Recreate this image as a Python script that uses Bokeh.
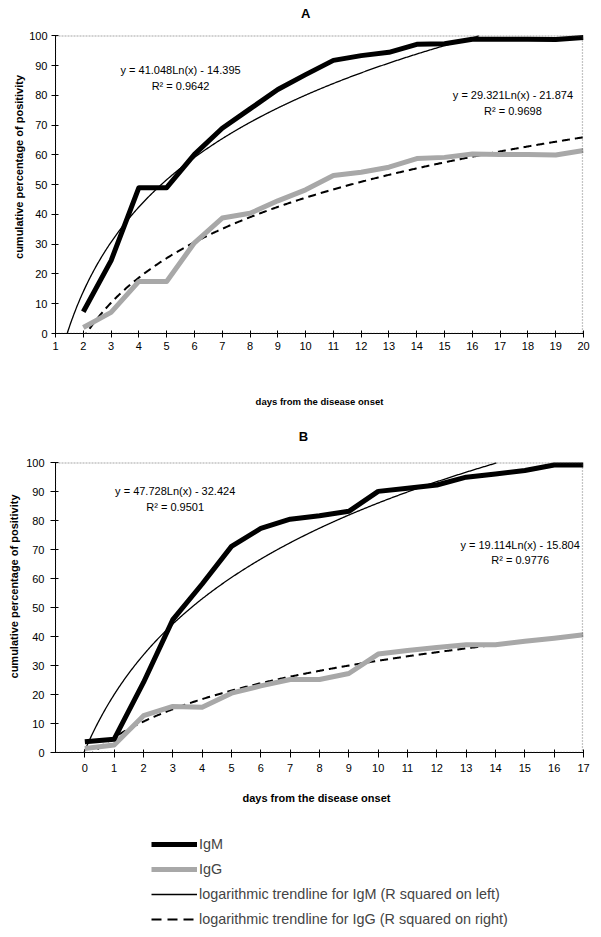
import numpy as np
from bokeh.plotting import figure
from bokeh.layouts import column
from bokeh.models import Label, Legend, LegendItem, FixedTicker, Range1d, BoxAnnotation
from bokeh.embed import file_html
from bokeh.resources import INLINE

FONT = "Liberation Sans"

# ---------------- data: panel A ----------------
days_a = list(range(2, 21))
igm_a = [7.3, 24.5, 49.0, 49.0, 60.2, 69.0, 75.5, 82.0, 87.0, 91.8,
         93.4, 94.5, 97.2, 97.4, 98.9, 98.9, 98.9, 98.8, 99.5]
igg_a = [2.0, 7.1, 17.5, 17.5, 30.5, 38.8, 40.4, 44.6, 48.3, 53.1,
         54.2, 55.9, 58.8, 59.2, 60.3, 60.2, 60.2, 60.0, 61.5]
xticks_a = list(range(1, 21))
# logarithmic trendlines (slope, intercept) as printed on the chart
trend_a_igm = (41.048, -14.395)
trend_a_igg = (29.321, -21.874)
r2_a_igm = "0.9642"
r2_a_igg = "0.9698"
cat_offset_a = 0   # category index = day

# ---------------- data: panel B ----------------
days_b = list(range(0, 18))
igm_b = [3.7, 4.6, 24.2, 45.9, 58.2, 71.2, 77.4, 80.6, 81.8, 83.3,
         90.2, 91.3, 92.4, 95.1, 96.2, 97.4, 99.3, 99.3]
igg_b = [1.4, 2.6, 12.7, 15.9, 15.6, 20.5, 23.0, 25.2, 25.2, 27.3,
         34.0, 35.2, 36.3, 37.2, 37.2, 38.4, 39.5, 40.7]
xticks_b = list(range(0, 18))
trend_b_igm = (47.728, -32.424)
trend_b_igg = (19.114, -15.804)
r2_b_igm = "0.9501"
r2_b_igg = "0.9776"
cat_offset_b = 2   # category index = day + 2 (first category is a blank at -1)

yticks = list(range(0, 101, 10))

IGM_COLOR = "black"
IGG_COLOR = "#a8a8a8"
BL, BR, W = 55, 17, 600


def eq_text(coef):
    a, b = coef
    sign = "-" if b < 0 else "+"
    return f"y = {a:.3f}Ln(x) {sign} {abs(b):.3f}"


def trend_curve(coef, x0, x1, offset):
    a, b = coef
    x_top = np.exp((100 - b) / a) - offset      # where the curve reaches 100
    xe = min(x1, x_top)
    xs = np.linspace(x0, xe, 600)
    idx = xs + offset
    ys = np.full_like(xs, np.nan)
    ok = idx > 0
    ys[ok] = a * np.log(idx[ok]) + b
    return xs, ys


def make_panel(title, title_xy, days, igm, igg, xticks, x0, x1, y_end,
               t_igm, t_igg, r2m, r2g, offset, height, bb, eq_pos,
               xlabel, xlabel_size, xlabel_standoff, tick_out, tick_standoff,
               ylabel_standoff):
    p = figure(width=W, height=height, x_range=Range1d(x0, x1),
               y_range=Range1d(0, y_end), output_backend="svg",
               toolbar_location=None, min_border_left=BL,
               min_border_right=BR, min_border_top=0, min_border_bottom=bb)
    p.grid.visible = False
    p.outline_line_color = None
    p.background_fill_color = "white"

    # plot-area border (0..100); right edge pulled in ~1px so it is not clipped
    px_per_unit = (W - BL - BR) / (x1 - x0)
    p.add_layout(BoxAnnotation(left=x0, right=x1 - 1.0 / px_per_unit,
                               bottom=0, top=100,
                               fill_color=None, fill_alpha=0,
                               line_color="#3a3a3a", line_dash="2 1",
                               line_width=1.3))

    # trendlines
    xs, ys = trend_curve(t_igm, x0, x1, offset)
    p.line(xs, ys, line_color="black", line_width=1.3)
    xs, ys = trend_curve(t_igg, x0, x1, offset)
    p.line(xs, ys, line_color="black", line_width=2, line_dash="8 5")

    # data series
    p.line(days, igg, line_color=IGG_COLOR, line_width=5, line_join="round")
    p.line(days, igm, line_color=IGM_COLOR, line_width=5, line_join="round")

    # panel letter
    p.add_layout(Label(x=title_xy[0], y=title_xy[1], text=title,
                       text_align="center", text_baseline="middle",
                       text_font=FONT, text_font_size="13px",
                       text_font_style="bold", text_color="black"))

    # equations
    (ex1, ey1, ey1b), (ex2, ey2, ey2b) = eq_pos
    for x, y, t in [(ex1, ey1, eq_text(t_igm)), (ex1, ey1b, "R² = " + r2m),
                    (ex2, ey2, eq_text(t_igg)), (ex2, ey2b, "R² = " + r2g)]:
        p.add_layout(Label(x=x, y=y, text=t, text_align="center",
                           text_baseline="middle", text_font=FONT,
                           text_font_size="11px", text_color="black"))

    for ax in (p.xaxis[0], p.yaxis[0]):
        ax.major_tick_in = 3
        ax.major_tick_out = tick_out
        ax.minor_tick_line_color = None
        ax.axis_line_color = "black"
        ax.major_tick_line_color = "black"
        ax.major_label_text_font = FONT
        ax.major_label_text_font_size = "11px"
        ax.major_label_text_color = "black"
        ax.axis_label_text_font = FONT
        ax.axis_label_text_font_size = "11px"
        ax.axis_label_text_font_style = "bold"
        ax.axis_label_text_color = "black"
        ax.major_label_standoff = tick_standoff
    p.xaxis.ticker = FixedTicker(ticks=xticks)
    p.yaxis.ticker = FixedTicker(ticks=yticks)
    p.yaxis.bounds = (0, 100)
    p.xaxis.axis_label = xlabel
    p.xaxis.axis_label_text_font_size = xlabel_size
    p.xaxis.axis_label_standoff = xlabel_standoff
    p.yaxis.axis_label = "cumulative percentage of positivity"
    p.yaxis.axis_label_standoff = ylabel_standoff
    return p


pa = make_panel("A", (10.0, 107.6), days_a, igm_a, igg_a, xticks_a, 1, 20, 111.93,
                trend_a_igm, trend_a_igg, r2_a_igm, r2_a_igg, cat_offset_a,
                420, 87,
                ((5.5, 88.7, 83.3), (17.46, 80.2, 74.9)),
                "days from the disease onset", "9.5px", 43, 4, 4, 1)

pb = make_panel("B", (7.45, 109.3), days_b, igm_b, igg_b, xticks_b, -1, 17, 114.68,
                trend_b_igm, trend_b_igg, r2_b_igm, r2_b_igg, cat_offset_b,
                390, 58,
                ((3.08, 90.2, 84.7), (14.84, 71.8, 66.5)),
                "days from  the  disease onset", "11px", 17, 5, 6, 3)

# ---------------- legend ----------------
leg = figure(width=W, height=125, x_range=Range1d(0, 1), y_range=Range1d(0, 1),
             x_axis_location=None, y_axis_location=None, output_backend="svg",
             toolbar_location=None, min_border_left=BL, min_border_right=BR,
             min_border_top=0, min_border_bottom=0, outline_line_color=None)
leg.grid.visible = False
off = [-5, -4]   # dummy renderers kept outside the visible range
r1 = leg.line(x=off, y=off, line_color=IGM_COLOR, line_width=5)
r2 = leg.line(x=off, y=off, line_color=IGG_COLOR, line_width=5)
r3 = leg.line(x=off, y=off, line_color="black", line_width=1.5)
r4 = leg.line(x=off, y=off, line_color="black", line_width=2, line_dash="10 6")
legend = Legend(items=[
    LegendItem(label="IgM", renderers=[r1]),
    LegendItem(label="IgG", renderers=[r2]),
    LegendItem(label="logarithmic trendline for IgM (R squared on left)", renderers=[r3]),
    LegendItem(label="logarithmic trendline for IgG (R squared on right)", renderers=[r4]),
], location=(96, 6), padding=0, margin=0, border_line_color=None,
    background_fill_alpha=0, glyph_width=46, glyph_height=20, label_standoff=2,
    spacing=5, label_text_font=FONT, label_text_font_size="14.4px")
leg.add_layout(legend)

layout = column(pa, pb, leg, spacing=0)
open("out.html", "w").write(file_html(layout, INLINE))
